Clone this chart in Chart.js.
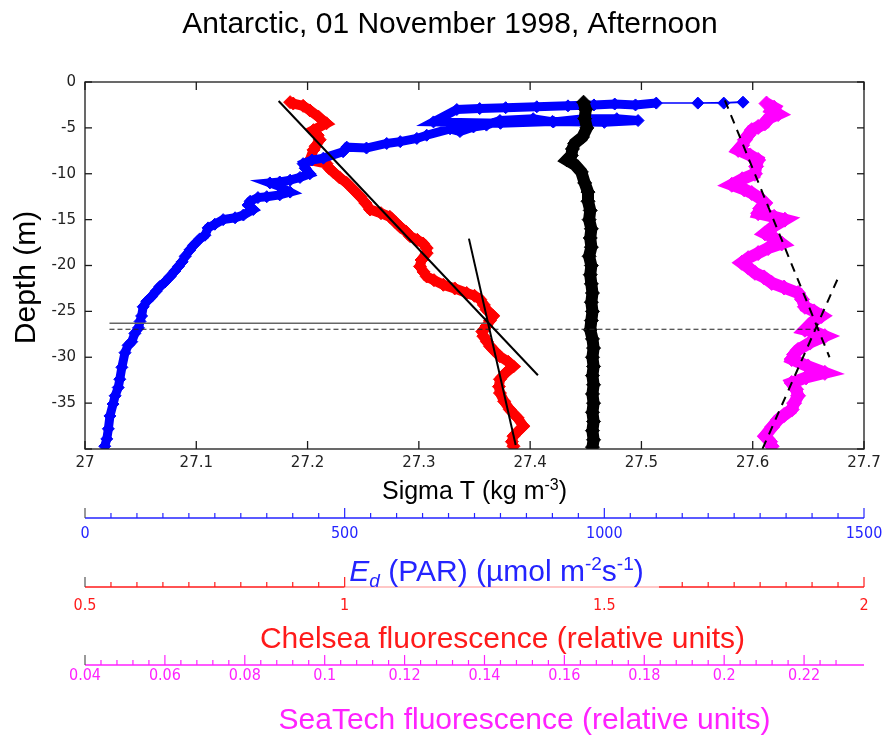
<!DOCTYPE html>
<html>
<head>
<meta charset="utf-8">
<script src="https://cdn.jsdelivr.net/npm/chart.js@4.4.1/dist/chart.umd.min.js"></script>
<style>
  html, body { margin: 0; padding: 0; background: #fff; }
  #wrap { width: 886px; height: 737px; }
</style>
</head>
<body>
<div id="wrap"><canvas id="profileChart" width="886" height="737"></canvas></div>
<script>
// --- data (depth in m, negative downwards) ---
const chartTitle = 'Antarctic, 01 November 1998, Afternoon';

// Ed (PAR), umol m-2 s-1
const edDepth = [-39.7, -38.9, -37.8, -36.4, -35.1, -34.2, -33.3, -32.4, -31.1, -29.5,
  -28.7, -28.3, -27.4, -26.8, -26.1, -25.5, -24.5, -23.9, -23.4, -22.8,
  -22.3, -21.8, -21.2, -20.6, -20.1, -19.6, -19.0, -18.3, -17.8, -17.1,
  -16.7, -15.9, -15.5, -15.0, -14.8, -14.5, -13.9, -13.4, -13.0, -12.6,
  -12.5, -12.3, -12.0, -11.4, -11.0, -10.9, -10.7, -10.4, -10.0, -9.4,
  -8.9, -8.5, -8.3, -7.6, -7.1, -7.2, -6.7, -6.5, -6.15, -5.8,
  -5.1, -5.4, -4.9, -4.7, -4.2, -4.0, -4.35, -4.0, -4.0, -4.2,
  -4.4, -4.3, -4.5, -4.35, -3.0, -2.9, -2.8, -2.7, -2.6, -2.5,
  -2.4, -2.5, -2.3, -2.3, -2.2, -2.3];
const edValue = [38, 42, 45, 48, 54, 58, 64, 67, 71, 77,
  83, 90, 96, 103, 106, 109, 112, 119, 128, 137,
  144, 154, 164, 173, 180, 187, 193, 202, 209, 221,
  231, 237, 250, 266, 289, 305, 324, 314, 318, 333,
  350, 375, 395, 375, 356, 375, 395, 414, 433, 424,
  420, 437, 459, 497, 504, 542, 581, 607, 639, 658,
  703, 722, 748, 773, 799, 863, 902, 960, 1024, 1065,
  1000, 900, 800, 671, 716, 760, 810, 870, 930, 980,
  1020, 1060, 1100, 1180, 1267, 1230];

// Chelsea fluorescence, relative units
const chelseaDepth = [-2.2, -2.35, -2.6, -3.1, -3.8, -4.5, -5.25, -5.8, -6.3, -7.0,
  -7.4, -8.5, -8.9, -9.4, -9.8, -10.4, -11.0, -11.8, -12.5, -13.2,
  -13.9, -14.3, -14.7, -15.3, -15.8, -16.3, -16.8, -17.2, -17.6, -18.1,
  -18.65, -19.4, -20.1, -20.7, -21.2, -21.6, -22.1, -22.5, -23.0, -23.3,
  -23.7, -24.3, -24.8, -25.5, -26.0, -26.6, -27.2, -27.7, -28.3, -28.8,
  -29.4, -29.9, -30.5, -31.0, -31.7, -32.4, -33.2, -33.9, -34.8, -35.7,
  -36.6, -37.5, -38.0, -38.6, -39.2, -39.7];
const chelseaValue = [0.895, 0.901, 0.92, 0.933, 0.95, 0.965, 0.94, 0.948, 0.952, 0.944,
  0.94, 0.933, 0.965, 0.97, 0.978, 0.99, 1.004, 1.018, 1.03, 1.04,
  1.049, 1.07, 1.087, 1.098, 1.107, 1.118, 1.126, 1.14, 1.151, 1.158,
  1.158, 1.148, 1.145, 1.152, 1.158, 1.172, 1.19, 1.212, 1.235, 1.25,
  1.261, 1.268, 1.273, 1.286, 1.28, 1.273, 1.265, 1.267, 1.274, 1.28,
  1.29, 1.299, 1.315, 1.325, 1.31, 1.299, 1.297, 1.299, 1.307, 1.318,
  1.333, 1.344, 1.335, 1.325, 1.322, 1.325];

// SeaTech fluorescence, relative units
const seatechDepth = [-2.35, -2.8, -3.1, -3.5, -4.0, -4.5, -4.9, -5.25, -5.8, -6.3,
  -6.9, -7.4, -8.0, -8.5, -9.2, -10.0, -10.6, -11.2, -11.7, -12.1,
  -12.7, -13.2, -13.8, -14.3, -14.7, -15.0, -15.7, -16.5, -17.0, -17.6,
  -18.1, -18.65, -19.2, -19.7, -20.2, -20.8, -21.3, -21.9, -22.4, -23.0,
  -23.7, -24.5, -25.0, -25.5, -26.2, -27.0, -27.3, -27.7, -28.4, -29.2,
  -29.7, -30.2, -31.0, -31.7, -32.2, -32.8, -33.5, -34.2, -35.0, -35.7,
  -36.3, -36.8, -37.6, -38.6, -39.2, -39.7];
const seatechValue = [0.2106, 0.2125, 0.2119, 0.2135, 0.211, 0.2102, 0.2085, 0.2069, 0.206, 0.2052,
  0.2045, 0.2035, 0.2065, 0.2085, 0.208, 0.2077, 0.2045, 0.2019, 0.205, 0.2069,
  0.209, 0.2102, 0.209, 0.2085, 0.2125, 0.2152, 0.2125, 0.2102, 0.2125, 0.2144,
  0.211, 0.2085, 0.206, 0.2044, 0.206, 0.2077, 0.21, 0.2119, 0.215, 0.2185,
  0.2195, 0.2202, 0.2225, 0.2244, 0.222, 0.2202, 0.223, 0.2252, 0.2215, 0.2185,
  0.2175, 0.2169, 0.221, 0.2252, 0.2205, 0.2169, 0.218, 0.2185, 0.2175, 0.2169,
  0.215, 0.2135, 0.212, 0.2102, 0.2115, 0.2119];

// Sigma T, kg m-3
const sigmaDepth = [-2.2, -3, -4, -5, -6, -6.7, -7.3, -8, -8.5, -9,
  -9.8, -11, -12, -13, -14, -15, -16, -17, -18, -19,
  -20, -21, -22, -23, -24, -25, -26, -27, -28, -29,
  -30, -31, -32, -33, -34, -35, -36, -37, -38, -39, -39.8];
const sigmaValue = [27.448, 27.45, 27.449, 27.451, 27.447, 27.44, 27.438, 27.437, 27.433, 27.44,
  27.446, 27.449, 27.452, 27.452, 27.454, 27.453, 27.455, 27.454, 27.455, 27.453,
  27.455, 27.454, 27.455, 27.456, 27.455, 27.456, 27.455, 27.454, 27.456, 27.457,
  27.456, 27.457, 27.456, 27.457, 27.456, 27.457, 27.456, 27.457, 27.456, 27.457, 27.456];

// fitted lines (sigma T axis) and mixed-layer markers
const fitRedUpperSigma = [27.174, 27.407], fitRedUpperDepth = [-2.07, -31.96];
const fitRedLowerSigma = [27.345, 27.387], fitRedLowerDepth = [-17.07, -39.57];
const fitPinkUpperSigma = [27.575, 27.669], fitPinkUpperDepth = [-1.99, -30.0];
const fitPinkLowerSigma = [27.676, 27.608], fitPinkLowerDepth = [-21.55, -40.2];
const mldSolidSigma = [27.022, 27.364], mldSolidDepth = [-26.3, -26.3];
const mldDashedSigma = [27.022, 27.657], mldDashedDepth = [-26.95, -26.95];

const pts = (xs, ys) => xs.map((x, i) => ({ x: x, y: ys[i] }));

Chart.defaults.font.family = '"Liberation Sans", Arial, sans-serif';

const tickFont = { family: '"DejaVu Sans", sans-serif', size: 15 };
const secFont = { family: '"DejaVu Sans Condensed", "Liberation Sans Narrow", sans-serif', size: 16 };

// secondary axes: minor step, major step, tick reserve
const secAxes = {
  ed: { step: 50, major: 500, reserve: 13, color: '#2424ff' },
  ch: { step: 0.05, major: 0.5, reserve: 5, color: '#ff1a1a' },
  st: { step: 0.004, major: 0.02, reserve: 11, color: '#ff22ff' }
};
const onStep = (v, min, step) => Math.abs((v - min) / step - Math.round((v - min) / step)) < 1e-6;
const noSidePad = s => { s.paddingLeft = 0; s.paddingRight = 0; };

function secScale(id, min, max, weight, height, padding) {
  const cfg = secAxes[id];
  return {
    type: 'linear', position: 'bottom', weight: weight, min: min, max: max,
    grid: { display: false, drawTicks: false }, border: { display: false },
    ticks: {
      stepSize: cfg.step, autoSkip: false, maxRotation: 0, padding: padding,
      color: cfg.color, font: secFont,
      callback: v => onStep(v, 0, cfg.major) ? String(+v.toFixed(3)) : ''
    },
    afterFit: s => { s.height = height; noSidePad(s); }
  };
}

function drawRich(ctx, parts, cx, cy, size, color, rotate) {
  const fam = '"Liberation Sans", Arial, sans-serif';
  const fontFor = p => (p.italic ? 'italic ' : '') + ((p.sup || p.sub) ? Math.round(size * 0.62) : size) + 'px ' + fam;
  let total = 0;
  const widths = parts.map(p => { ctx.font = fontFor(p); const w = ctx.measureText(p.t).width; total += w; return w; });
  ctx.save();
  ctx.translate(cx, cy);
  if (rotate) ctx.rotate(-Math.PI / 2);
  ctx.fillStyle = color;
  ctx.textAlign = 'left';
  ctx.textBaseline = 'alphabetic';
  let x = -total / 2;
  parts.forEach((p, i) => {
    ctx.font = fontFor(p);
    const dy = p.sup ? -size * 0.36 : p.sub ? size * 0.2 : 0;
    ctx.fillText(p.t, x, size * 0.36 + dy);
    x += widths[i];
  });
  ctx.restore();
}

const decor = {
  id: 'decor',
  afterDraw(chart) {
    const ctx = chart.ctx, a = chart.chartArea, sc = chart.scales;
    const line = (x1, y1, x2, y2) => { ctx.beginPath(); ctx.moveTo(x1, y1); ctx.lineTo(x2, y2); ctx.stroke(); };
    ctx.save();
    // frame with inward ticks
    ctx.strokeStyle = '#1a1a1a';
    ctx.lineWidth = 1.3;
    ctx.strokeRect(a.left, a.top, a.right - a.left, a.bottom - a.top);
    sc.x.ticks.forEach(t => {
      const px = sc.x.getPixelForValue(t.value);
      line(px, a.bottom, px, a.bottom - 8);
      line(px, a.top, px, a.top + 8);
    });
    sc.y.ticks.forEach(t => {
      const py = sc.y.getPixelForValue(t.value);
      line(a.left, py, a.left + 7, py);
      line(a.right, py, a.right - 7, py);
    });
    // secondary axes: line with upward ticks
    Object.keys(secAxes).forEach(id => {
      const s = sc[id], cfg = secAxes[id];
      const y0 = s.top + cfg.reserve;
      ctx.lineWidth = 1.5;
      ctx.strokeStyle = cfg.color;
      if (id === 'ch') {
        const gA = s.getPixelForValue(1.0), gB = s.getPixelForValue(1.605);
        line(s.left, y0, gA, y0);
        line(gB, y0, s.right, y0);
        ctx.strokeStyle = '#ffb4b4';
        line(gA, y0, gB, y0);
        ctx.strokeStyle = cfg.color;
      } else {
        line(s.left, y0, s.right, y0);
      }
      ctx.lineWidth = 1.2;
      s.ticks.forEach((t, i) => {
        const v = t.value;
        if (!onStep(v, s.min, cfg.step)) return;
        if (id === 'ch' && v > 1.001 && v < 1.62) return;
        const px = s.getPixelForValue(v);
        const len = onStep(v, 0, cfg.major) ? 10 : 5;
        ctx.strokeStyle = i === 0 ? '#555' : cfg.color;
        line(px, y0, px, y0 - len);
      });
    });
    ctx.restore();
    // titles
    const mid = (a.left + a.right) / 2;
    drawRich(ctx, [{ t: chartTitle }], chart.width / 2 + 7, 22, 30, '#000');
    drawRich(ctx, [{ t: 'Sigma T (kg m' }, { t: '-3', sup: true }, { t: ')' }], mid, sc.x.bottom - 15, 25, '#000');
    drawRich(ctx, [{ t: 'E', italic: true }, { t: 'd', italic: true, sub: true }, { t: ' (PAR) (µmol m' },
      { t: '-2', sup: true }, { t: 's' }, { t: '-1', sup: true }, { t: ')' }], mid + 22, sc.ed.bottom - 12, 30, '#2424ff');
    drawRich(ctx, [{ t: 'Chelsea fluorescence (relative units)' }], mid + 28, sc.ch.bottom - 17, 30, '#ff1a1a');
    drawRich(ctx, [{ t: 'SeaTech fluorescence (relative units)' }], mid + 50, sc.st.bottom - 19, 30, '#ff22ff');
    drawRich(ctx, [{ t: 'Depth (m)' }], 24, (a.top + a.bottom) / 2 + 12, 30, '#000', true);
  }
};

const profile = (label, xs, ys, axis, color, width, radius) => ({
  label: label, data: pts(xs, ys), xAxisID: axis, yAxisID: 'y', showLine: true,
  borderColor: color, backgroundColor: color, borderWidth: width,
  pointStyle: 'rectRot', pointRadius: radius, pointBorderWidth: 1,
  pointBackgroundColor: color, pointBorderColor: color, clip: 0
});
const fitLine = (xs, ys, dash) => ({
  data: pts(xs, ys), xAxisID: 'x', yAxisID: 'y', showLine: true,
  borderColor: '#000', borderWidth: 2, borderDash: dash, pointRadius: 0, clip: 0
});

const edSet = profile('Ed', edValue, edDepth, 'ed', '#0000ff', 9, 6);
edSet.segment = { borderWidth: c => (c.p0.parsed.x > 1090 && c.p1.parsed.x > 1090) ? 1.5 : 9 };

new Chart(document.getElementById('profileChart').getContext('2d'), {
  type: 'scatter',
  data: {
    datasets: [
      fitLine(fitRedUpperSigma, fitRedUpperDepth, []),
      fitLine(fitRedLowerSigma, fitRedLowerDepth, []),
      fitLine(fitPinkUpperSigma, fitPinkUpperDepth, [9, 7]),
      fitLine(fitPinkLowerSigma, fitPinkLowerDepth, [9, 7]),
      Object.assign(fitLine(mldSolidSigma, mldSolidDepth, []), { borderColor: '#666', borderWidth: 1.5 }),
      Object.assign(fitLine(mldDashedSigma, mldDashedDepth, [5, 3]), { borderColor: '#222', borderWidth: 1.2 }),
      profile('Sigma T', sigmaValue, sigmaDepth, 'x', '#000', 12, 7),
      profile('SeaTech', seatechValue, seatechDepth, 'st', '#ff00ff', 12, 7.5),
      edSet,
      profile('Chelsea', chelseaValue, chelseaDepth, 'ch', '#ff0000', 10, 6.5)
    ]
  },
  options: {
    responsive: false,
    animation: false,
    events: [],
    layout: { padding: { left: 0, right: 22, top: 82, bottom: 0 } },
    plugins: {
      legend: { display: false },
      tooltip: { enabled: false },
      title: { display: false }
    },
    scales: {
      y: {
        type: 'linear', position: 'left', min: -40, max: 0,
        grid: { display: false, drawTicks: false }, border: { display: false },
        ticks: { stepSize: 5, padding: 9, color: '#222', font: tickFont,
          callback: v => v === -40 ? '' : String(v) },
        afterFit: s => { s.width = 85; s.paddingTop = 0; s.paddingBottom = 0; }
      },
      x: {
        type: 'linear', position: 'bottom', weight: 1, min: 27, max: 27.7,
        grid: { display: false, drawTicks: false }, border: { display: false },
        ticks: { stepSize: 0.1, padding: 5, maxRotation: 0, autoSkip: false, color: '#222', font: tickFont,
          callback: v => String(+v.toFixed(1)) },
        afterFit: s => { s.height = 56; noSidePad(s); }
      },
      ed: secScale('ed', 0, 1500, 2, 77, 19),
      ch: secScale('ch', 0.5, 2, 3, 72, 14),
      st: secScale('st', 0.04, 0.235, 4, 83, 12)
    }
  },
  plugins: [decor]
});
</script>
</body>
</html>
